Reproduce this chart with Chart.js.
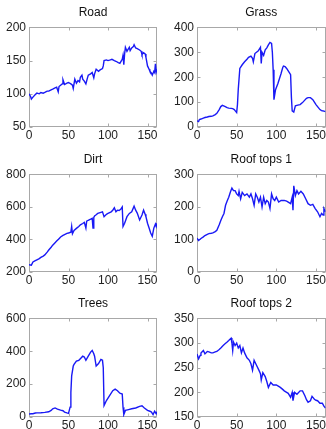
<!DOCTYPE html>
<html>
<head>
<meta charset="utf-8">
<script src="https://cdn.jsdelivr.net/npm/chart.js"></script>
<style>
  html, body { margin: 0; padding: 0; background: #fff; overflow: hidden; }
  body { width: 326px; height: 429px; position: relative; }
  .panel { position: absolute; }
</style>
</head>
<body>
<div class="panel" style="left:0px;top:1px;width:163px;height:141px"><canvas id="c0"></canvas></div>
<div class="panel" style="left:163px;top:1px;width:164px;height:141px"><canvas id="c1"></canvas></div>
<div class="panel" style="left:0px;top:148px;width:163px;height:139px"><canvas id="c2"></canvas></div>
<div class="panel" style="left:163px;top:148px;width:164px;height:139px"><canvas id="c3"></canvas></div>
<div class="panel" style="left:0px;top:292px;width:163px;height:140px"><canvas id="c4"></canvas></div>
<div class="panel" style="left:163px;top:292px;width:164px;height:140px"><canvas id="c5"></canvas></div>
<script>
const xTicks = [0, 50, 100, 150];
const xMax = 162;

const roadX = [0,2,3,5,8,10,13,15,18,20, 23,25,28,30,33,35,37,38,40,42, 43,45,48,50,53,55,56,58,60,62, 64,65,67,68,70,72,74,75,78,80, 82,83,85,88,90,93,94,95,98,100, 103,105,108,110,113,115,117,118,119,120, 121,122,124,125,127,128,130,132,133,135, 137,140,142,143,145,147,148,150,152,153, 155,156,158,159,160,161,162];
const roadY = [100,96,92,95,99,101,100,102,101,102, 104,104,106,107,109,110,103,111,113,115, 121,114,116,117,115,113,108,122,116,120, 118,125,128,122,119,115,124,128,130,132, 124,130,137,134,136,138,142,150,151,150, 151,152,150,149,147,146,150,152,158,144, 160,170,164,166,170,165,169,171,174,169, 168,166,164,159,162,160,155,142,137,134, 131,128,134,132,145,133,137];
const roadTicks = [50, 100, 150, 200];

const grassX = [0,2,3,5,8,10,13,15,18,20, 23,25,28,30,32,35,38,40,43,45, 47,48,50,51,52,54,57,60,63,65, 68,70,71,73,75,77,79,80,81,82, 84,86,88,90,92,94,95,96,97,99, 102,104,106,108,109,111,113,115,117,118, 119,120,122,124,127,130,133,135,138,140, 143,146,148,150,153,155,157,158,160,162];
const grassY = [25,22,30,32,36,38,40,42,43,45, 50,55,70,82,87,83,78,76,75,74, 70,66,58,90,150,235,250,262,272,280, 285,276,262,295,300,305,315,320,255,300, 288,310,318,330,340,336,300,230,110,150, 175,195,215,238,245,243,235,225,215,210, 120,65,60,85,88,90,98,105,115,118, 118,110,100,90,78,70,66,65,64,62];
const grassTicks = [0, 100, 200, 300, 400];

const dirtX = [0,3,5,8,10,13,15,18,20,23, 25,28,30,33,35,38,40,43,45,48, 50,53,54,55,57,60,63,65,68,70, 72,73,75,78,80,81,82,83,85,87, 90,93,95,98,100,102,104,106,108,110, 112,114,116,118,119,121,124,127,130,133, 135,137,140,143,145,147,148,150,152,154, 156,158,160,161,162];
const dirtY = [245,242,262,270,275,282,290,298,305,322, 335,352,365,380,390,405,415,425,430,437, 440,445,480,435,455,468,480,490,498,505, 470,512,518,525,530,470,535,545,552,560, 565,570,540,555,560,565,570,580,595,570, 580,578,585,600,480,500,540,560,570,605, 580,562,520,550,580,555,540,500,470,440, 420,470,495,480,500];
const dirtTicks = [200, 400, 600, 800];

const roof1X = [0,2,5,8,10,13,15,18,20,23, 25,28,30,32,34,36,38,40,42,44, 46,48,50,52,53,55,57,60,63,66, 68,70,72,74,76,78,80,82,84,86, 88,90,92,94,96,98,100,103,106,110, 113,115,118,120,121,122,124,126,128,131, 134,137,140,143,146,149,152,155,157,159, 160,162];
const roof1Y = [104,97,103,108,112,116,118,119,120,124, 128,145,158,170,180,205,218,230,245,258, 250,250,240,235,248,225,245,235,240,230, 240,225,205,240,230,215,230,200,230,210, 220,215,195,240,225,220,230,215,220,220, 218,215,210,230,190,265,235,250,240,248, 240,225,210,205,208,195,185,170,180,175, 195,185];
const roof1Ticks = [0, 100, 200, 300];

const treesX = [0,3,5,8,10,15,20,25,28,30, 33,36,40,43,45,48,50,52,53,54, 56,57,60,63,65,68,70,72,75,78, 80,82,83,85,88,91,93,94,95,98, 102,106,109,112,115,118,119,120,122,126, 130,135,140,143,146,150,153,155,157,159, 161,162];
const treesY = [18,20,20,24,25,26,28,32,40,50, 55,48,42,38,30,25,22,60,150,250, 310,320,340,345,355,370,365,345,370,395, 405,385,370,310,325,350,345,300,70,100, 130,160,170,160,145,140,60,15,40,45, 50,55,65,68,55,40,35,30,15,35, 20,32];
const treesTicks = [0, 200, 400, 600];

const roof2X = [0,2,4,5,8,10,13,15,18,20, 23,25,28,30,33,35,38,40,43,44, 45,46,48,50,52,54,56,58,60,63, 66,68,70,72,75,78,80,81,83,86, 88,90,93,96,100,103,105,108,110,113, 115,118,120,121,123,126,130,133,136,138, 140,143,145,148,150,152,155,158,160,162];
const roof2Y = [278,268,275,280,285,278,283,282,280,280, 282,283,287,290,295,298,302,305,310,300, 285,302,295,300,290,295,280,290,280,270, 265,258,245,265,255,245,238,225,240,232, 222,210,220,215,215,212,210,206,203,200, 198,190,200,183,200,196,203,203,193,185, 180,183,192,186,184,183,178,178,172,168];
const roof2Ticks = [150, 200, 250, 300, 350];

const fontFamily = "'Liberation Sans', Arial, Helvetica, sans-serif";

// box round the plot with short ticks pointing inwards, like the original figure
const framePlugin = {
  id: "frame",
  afterLayout(chart) {
    // centre the title over the plot box, not the whole canvas
    if (chart.titleBlock) {
      chart.titleBlock.left = chart.chartArea.left;
      chart.titleBlock.right = chart.chartArea.right;
    }
  },
  beforeDatasetsDraw(chart) {
    const { ctx, chartArea: a, scales } = chart;
    const l = Math.round(a.left) + 0.5;
    const r = Math.round(a.right) - 0.5;
    const t = Math.round(a.top) + 0.5;
    const b = Math.round(a.bottom) - 0.5;
    ctx.save();
    ctx.strokeStyle = "#a8a8a8";
    ctx.lineWidth = 1;
    ctx.strokeRect(l, t, r - l, b - t);
    ctx.beginPath();
    scales.x.ticks.forEach((tk) => {
      const px = Math.round(scales.x.getPixelForValue(tk.value)) + 0.5;
      ctx.moveTo(px, b);
      ctx.lineTo(px, b - 3);
      ctx.moveTo(px, t);
      ctx.lineTo(px, t + 3);
    });
    scales.y.ticks.forEach((tk) => {
      const py = Math.round(scales.y.getPixelForValue(tk.value)) + 0.5;
      ctx.moveTo(l, py);
      ctx.lineTo(l + 3, py);
      ctx.moveTo(r, py);
      ctx.lineTo(r - 3, py);
    });
    ctx.stroke();
    ctx.restore();
  },
};

function toPoints(xs, ys) {
  return xs.map((x, i) => ({ x: x, y: ys[i] }));
}

function makePanel(id, title, xs, ys, yTicks, yWidth, rightPad) {
  new Chart(document.getElementById(id), {
    type: "line",
    data: {
      datasets: [
        {
          data: toPoints(xs, ys),
          borderColor: "rgb(25, 25, 245)",
          borderWidth: 1.4,
          pointRadius: 0,
          tension: 0,
          fill: false,
        },
      ],
    },
    plugins: [framePlugin],
    options: {
      responsive: true,
      maintainAspectRatio: false,
      animation: false,
      events: [],
      layout: { padding: { left: 0, right: rightPad, top: 0, bottom: 0 } },
      plugins: {
        legend: { display: false },
        tooltip: { enabled: false },
        title: {
          display: true,
          text: title,
          color: "#111",
          font: { family: fontFamily, size: 12, weight: "normal" },
          padding: { top: 4, bottom: 8 },
        },
      },
      scales: {
        x: {
          type: "linear",
          min: 0,
          max: xMax,
          grid: { display: false, drawTicks: false },
          border: { display: false },
          afterBuildTicks: (s) => {
            s.ticks = xTicks.map((v) => ({ value: v }));
          },
          afterFit: (s) => {
            s.height = 15;
          },
          ticks: {
            color: "#222",
            padding: 1,
            maxRotation: 0,
            autoSkip: false,
            font: { family: fontFamily, size: 12 },
          },
        },
        y: {
          min: yTicks[0],
          max: yTicks[yTicks.length - 1],
          grid: { display: false, drawTicks: false },
          border: { display: false },
          afterBuildTicks: (s) => {
            s.ticks = yTicks.map((v) => ({ value: v }));
          },
          afterFit: (s) => {
            s.width = yWidth;
          },
          ticks: {
            color: "#222",
            padding: 3,
            autoSkip: false,
            font: { family: fontFamily, size: 12 },
          },
        },
      },
    },
  });
}

makePanel("c0", "Road", roadX, roadY, roadTicks, 29, 6);
makePanel("c1", "Grass", grassX, grassY, grassTicks, 34, 0);
makePanel("c2", "Dirt", dirtX, dirtY, dirtTicks, 29, 6);
makePanel("c3", "Roof tops 1", roof1X, roof1Y, roof1Ticks, 34, 0);
makePanel("c4", "Trees", treesX, treesY, treesTicks, 29, 6);
makePanel("c5", "Roof tops 2", roof2X, roof2Y, roof2Ticks, 34, 0);
</script>
</body>
</html>
